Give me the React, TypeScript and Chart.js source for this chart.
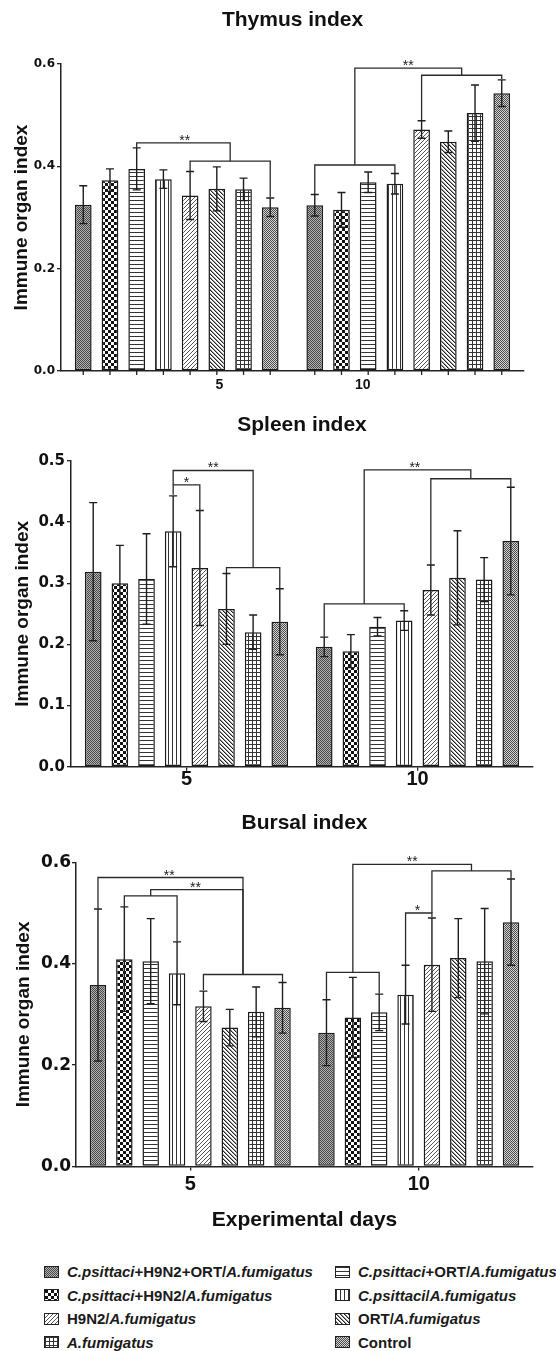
import React, { useEffect, useMemo, useRef } from 'react';
import { Chart, registerables } from 'chart.js';

Chart.register(...registerables);
Chart.defaults.font.family = "'Liberation Sans', Arial, sans-serif";

// ---------------- DATA ----------------
const days = ['5', '10'];

const groupNames = [
  'C.psittaci+H9N2+ORT/A.fumigatus',
  'C.psittaci+H9N2/A.fumigatus',
  'C.psittaci+ORT/A.fumigatus',
  'C.psittaci/A.fumigatus',
  'H9N2/A.fumigatus',
  'ORT/A.fumigatus',
  'A.fumigatus',
  'Control',
];

const thymusDay5 = [0.325, 0.373, 0.395, 0.375, 0.343, 0.356, 0.355, 0.32];
const thymusDay10 = [0.324, 0.315, 0.369, 0.366, 0.472, 0.448, 0.504, 0.543];
const thymusSdDay5 = [0.037, 0.022, 0.041, 0.018, 0.047, 0.043, 0.022, 0.018];
const thymusSdDay10 = [0.021, 0.034, 0.02, 0.02, 0.017, 0.021, 0.055, 0.026];
const thymusYTicks = [0, 0.2, 0.4, 0.6];

const spleenDay5 = [0.319, 0.3, 0.307, 0.385, 0.325, 0.258, 0.22, 0.237];
const spleenDay10 = [0.196, 0.189, 0.229, 0.239, 0.289, 0.309, 0.306, 0.369];
const spleenSdDay5 = [0.113, 0.062, 0.074, 0.058, 0.094, 0.058, 0.028, 0.054];
const spleenSdDay10 = [0.016, 0.027, 0.015, 0.016, 0.041, 0.077, 0.036, 0.088];
const spleenYTicks = [0, 0.1, 0.2, 0.3, 0.4, 0.5];

const bursalDay5 = [0.358, 0.409, 0.405, 0.381, 0.316, 0.274, 0.305, 0.313];
const bursalDay10 = [0.264, 0.294, 0.304, 0.339, 0.398, 0.411, 0.405, 0.482];
const bursalSdDay5 = [0.15, 0.103, 0.084, 0.062, 0.03, 0.036, 0.049, 0.05];
const bursalSdDay10 = [0.065, 0.079, 0.036, 0.058, 0.092, 0.078, 0.104, 0.085];
const bursalYTicks = [0, 0.2, 0.4, 0.6];

// significance brackets: day index, bar index range (within day), level, leg ends (data units)
type Bracket = { day: number; from: number; to: number; y: number; leftEnd: number; rightEnd: number; mark?: string; markAt?: number };

const thymusBrackets: Bracket[] = [
  { day: 0, from: 2, to: 5.5, y: 0.446, leftEnd: 0.436, rightEnd: 0.41, mark: '**', markAt: 3.8 },
  { day: 0, from: 4, to: 7, y: 0.41, leftEnd: 0.391, rightEnd: 0.34 },
  { day: 1, from: 1.5, to: 5.5, y: 0.592, leftEnd: 0.4026, rightEnd: 0.578, mark: '**', markAt: 3.5 },
  { day: 1, from: 0, to: 3, y: 0.4026, leftEnd: 0.346, rightEnd: 0.387 },
  { day: 1, from: 4, to: 7, y: 0.578, leftEnd: 0.4905, rightEnd: 0.5706 },
];

const spleenBrackets: Bracket[] = [
  { day: 0, from: 3, to: 6, y: 0.4845, leftEnd: 0.461, rightEnd: 0.3257, mark: '**', markAt: 4.5 },
  { day: 0, from: 3, to: 4, y: 0.461, leftEnd: 0.4447, rightEnd: 0.42, mark: '*', markAt: 3.5 },
  { day: 0, from: 5, to: 7, y: 0.3257, leftEnd: 0.3165, rightEnd: 0.292 },
  { day: 1, from: 1.5, to: 5.5, y: 0.4856, leftEnd: 0.2663, rightEnd: 0.471, mark: '**', markAt: 3.4 },
  { day: 1, from: 4, to: 7, y: 0.471, leftEnd: 0.33, rightEnd: 0.4573 },
  { day: 1, from: 0, to: 3, y: 0.2663, leftEnd: 0.2125, rightEnd: 0.2548 },
];

const bursalBrackets: Bracket[] = [
  { day: 0, from: 0, to: 5.5, y: 0.57, leftEnd: 0.509, rightEnd: 0.3787, mark: '**', markAt: 2.7 },
  { day: 0, from: 2, to: 5.5, y: 0.546, leftEnd: 0.5336, rightEnd: 0.3787, mark: '**', markAt: 3.7 },
  { day: 0, from: 1, to: 3, y: 0.5336, leftEnd: 0.511, rightEnd: 0.444 },
  { day: 0, from: 4, to: 7, y: 0.3787, leftEnd: 0.348, rightEnd: 0.3635 },
  { day: 1, from: 1, to: 5.5, y: 0.596, leftEnd: 0.3827, rightEnd: 0.5829, mark: '**', markAt: 3.25 },
  { day: 1, from: 0, to: 2, y: 0.3827, leftEnd: 0.3295, rightEnd: 0.341 },
  { day: 1, from: 4, to: 7, y: 0.5829, leftEnd: 0.5, rightEnd: 0.567 },
  { day: 1, from: 3, to: 4, y: 0.5, leftEnd: 0.397, rightEnd: 0.492, mark: '*', markAt: 3.45 },
];

const legendColumns = [
  [0, 1, 4, 6],
  [2, 3, 5, 7],
];

// ---------------- PATTERNS ----------------
function makeTile(i: number): HTMLCanvasElement {
  const c = document.createElement('canvas');
  const setup = (w: number, h: number, bg: string) => {
    c.width = w;
    c.height = h;
    const g = c.getContext('2d')!;
    g.fillStyle = bg;
    g.fillRect(0, 0, w, h);
    return g;
  };
  const dots = (g: CanvasRenderingContext2D, pts: number[][], col: string) => {
    g.fillStyle = col;
    pts.forEach(([x, y]) => g.fillRect(x, y, 1, 1));
  };
  let g: CanvasRenderingContext2D;
  switch (i) {
    case 0:
      g = setup(2, 2, '#b4b4b4');
      dots(g, [[0, 0], [1, 1]], '#464646');
      break;
    case 1:
      g = setup(6, 6, '#ffffff');
      g.fillStyle = '#111';
      g.fillRect(0, 0, 3, 3);
      g.fillRect(3, 3, 3, 3);
      break;
    case 2:
      g = setup(4, 4, '#ffffff');
      g.fillStyle = '#333';
      g.fillRect(0, 0, 4, 1);
      break;
    case 3:
      g = setup(4, 4, '#ffffff');
      g.fillStyle = '#333';
      g.fillRect(0, 0, 1, 4);
      break;
    case 4:
      g = setup(4, 4, '#ffffff');
      dots(g, [[3, 0], [2, 1], [1, 2], [0, 3]], '#555');
      break;
    case 5:
      g = setup(4, 4, '#ffffff');
      dots(g, [[0, 0], [1, 1], [2, 2], [3, 3]], '#222');
      dots(g, [[1, 0], [2, 1], [3, 2], [0, 3]], '#9a9a9a');
      break;
    case 6:
      g = setup(4, 4, '#ffffff');
      g.fillStyle = '#333';
      g.fillRect(0, 0, 4, 1);
      g.fillRect(0, 0, 1, 4);
      break;
    default:
      g = setup(4, 4, '#d6d6d6');
      dots(g, [[0, 0], [1, 1], [2, 0], [3, 1], [0, 2], [1, 3], [2, 2], [3, 3]], '#4a4a4a');
      break;
  }
  return c;
}

// ---------------- PLUGINS ----------------
function barX(chart: any, day: number, idx: number) {
  const i0 = Math.floor(idx);
  const i1 = Math.min(Math.ceil(idx), chart.data.datasets.length - 1);
  const x0 = chart.getDatasetMeta(i0).data[day].x;
  const x1 = chart.getDatasetMeta(i1).data[day].x;
  return x0 + (idx - i0) * (x1 - x0);
}

const errorBarPlugin = {
  id: 'errorBars',
  afterDatasetsDraw(chart: any) {
    const { ctx } = chart;
    const y = chart.scales.y;
    ctx.save();
    ctx.strokeStyle = '#1e1e1e';
    ctx.lineWidth = 1.4;
    chart.data.datasets.forEach((ds: any, i: number) => {
      const meta = chart.getDatasetMeta(i);
      meta.data.forEach((bar: any, j: number) => {
        const m = ds.data[j];
        const sd = ds.errors[j];
        const top = y.getPixelForValue(m + sd);
        const bot = y.getPixelForValue(m - sd);
        const cap = 4;
        ctx.beginPath();
        ctx.moveTo(bar.x, top);
        ctx.lineTo(bar.x, bot);
        ctx.moveTo(bar.x - cap, top);
        ctx.lineTo(bar.x + cap, top);
        ctx.moveTo(bar.x - cap, bot);
        ctx.lineTo(bar.x + cap, bot);
        ctx.stroke();
      });
    });
    ctx.restore();
  },
};

function makeBracketPlugin(brackets: Bracket[]) {
  return {
    id: 'brackets',
    afterDatasetsDraw(chart: any) {
      const { ctx } = chart;
      const y = chart.scales.y;
      ctx.save();
      ctx.strokeStyle = '#2a2a2a';
      ctx.lineWidth = 1.3;
      ctx.fillStyle = '#222';
      ctx.font = "14px 'Liberation Sans', Arial, sans-serif";
      ctx.textAlign = 'center';
      ctx.textBaseline = 'alphabetic';
      brackets.forEach((b) => {
        const xa = barX(chart, b.day, b.from);
        const xb = barX(chart, b.day, b.to);
        const yh = y.getPixelForValue(b.y);
        const ya = y.getPixelForValue(b.leftEnd);
        const yb = y.getPixelForValue(b.rightEnd);
        ctx.beginPath();
        ctx.moveTo(xa, ya);
        ctx.lineTo(xa, yh);
        ctx.lineTo(xb, yh);
        ctx.lineTo(xb, yb);
        ctx.stroke();
        if (b.mark) {
          ctx.fillText(b.mark, barX(chart, b.day, b.markAt as number), yh + 2);
        }
      });
      ctx.restore();
    },
  };
}

function makeBarTicksPlugin(labelAt: number[], labelDy: number) {
  return {
    id: 'barTicks',
    afterDraw(chart: any) {
      const { ctx } = chart;
      const bottom = chart.chartArea.bottom;
      ctx.save();
      ctx.strokeStyle = '#222';
      ctx.lineWidth = 1.3;
      chart.data.datasets.forEach((_: any, i: number) => {
        chart.getDatasetMeta(i).data.forEach((el: any) => {
          ctx.beginPath();
          ctx.moveTo(el.x, bottom);
          ctx.lineTo(el.x, bottom + 4);
          ctx.stroke();
        });
      });
      ctx.fillStyle = '#111';
      ctx.font = "bold 14px 'Liberation Sans', Arial, sans-serif";
      ctx.textAlign = 'center';
      ctx.textBaseline = 'middle';
      chart.data.labels.forEach((lab: string, j: number) => {
        ctx.fillText(lab, barX(chart, j, labelAt[j]), bottom + labelDy);
      });
      ctx.restore();
    },
  };
}

// ---------------- PANEL ----------------
type PanelSpec = {
  title: string;
  d5: number[];
  d10: number[];
  s5: number[];
  s10: number[];
  yTicks: number[];
  brackets: Bracket[];
  top: number;
  height: number;
  area: { left: number; right: number; top: number; bottom: number };
  titleCenter: number;
  yTickFont: number;
  yTickPad: number;
  yTitlePad: number;
  xLabels: 'bars' | 'category';
  xLabelPad: number;
  xTitle?: string;
  xTitleCenter?: number;
};

const W = 556;

function buildConfig(p: PanelSpec, tiles: HTMLCanvasElement[]): any {
  const patterns = tiles.map((t) => t.getContext('2d')!.createPattern(t, 'repeat'));
  const titleLH = 21 * 1.2;
  const titlePadTop = p.titleCenter - titleLH / 2;
  const titlePadBottom = p.area.top - titlePadTop - titleLH;
  const plugins: any[] = [errorBarPlugin, makeBracketPlugin(p.brackets)];
  if (p.xLabels === 'bars') plugins.push(makeBarTicksPlugin([5.1, 1.8], 14));
  const xTitleLH = 21 * 1.2;
  return {
    type: 'bar',
    data: {
      labels: days,
      datasets: groupNames.map((name, i) => ({
        label: name,
        data: [p.d5[i], p.d10[i]],
        errors: [p.s5[i], p.s10[i]],
        backgroundColor: patterns[i],
        borderColor: '#1a1a1a',
        borderWidth: 1.5,
        borderSkipped: false,
        categoryPercentage: 0.923,
        barPercentage: 0.625,
      })),
    },
    options: {
      responsive: false,
      animation: false,
      devicePixelRatio: 1,
      events: [],
      layout: { padding: { left: 0, right: W - p.area.right, top: 0, bottom: 0 } },
      plugins: {
        legend: { display: false },
        tooltip: { enabled: false },
        title: {
          display: true,
          text: p.title,
          fullSize: false,
          color: '#111',
          font: { size: 21, weight: 'bold' },
          padding: { top: titlePadTop, bottom: titlePadBottom },
        },
      },
      scales: {
        x: {
          type: 'category',
          offset: true,
          grid: {
            display: p.xLabels === 'category',
            drawOnChartArea: false,
            drawTicks: true,
            tickLength: 4,
            offset: false,
            color: '#222',
            lineWidth: 1.3,
          },
          ticks: {
            display: p.xLabels === 'category',
            color: '#111',
            font: { size: 20, weight: 'bold', lineHeight: 1 },
            padding: p.xLabelPad,
            maxRotation: 0,
          },
          border: { display: true, color: '#222', width: 1.5 },
          title: p.xTitle
            ? {
                display: true,
                text: p.xTitle,
                color: '#111',
                font: { size: 21, weight: 'bold' },
                padding: { top: 0, bottom: p.height - (p.xTitleCenter as number) - xTitleLH / 2 },
              }
            : { display: false },
          afterFit: (s: any) => {
            s.height = p.height - p.area.bottom;
          },
        },
        y: {
          min: 0,
          max: p.yTicks[p.yTicks.length - 1],
          afterBuildTicks: (s: any) => {
            s.ticks = p.yTicks.map((v) => ({ value: v }));
          },
          ticks: {
            color: '#111',
            font: { family: "'DejaVu Sans', sans-serif", size: p.yTickFont, weight: 'bold' },
            padding: p.yTickPad,
            callback: (v: any) => Number(v).toFixed(1),
          },
          grid: {
            display: true,
            drawOnChartArea: false,
            drawTicks: true,
            tickLength: 4,
            color: '#222',
            lineWidth: 1.3,
          },
          border: { display: true, color: '#222', width: 1.5 },
          title: {
            display: true,
            text: 'Immune organ index',
            color: '#111',
            font: { size: 19, weight: 'bold' },
            padding: { top: p.yTitlePad, bottom: 0 },
          },
          afterFit: (s: any) => {
            s.width = p.area.left;
          },
        },
      },
    },
    plugins,
  };
}

function Panel({ spec, tiles }: { spec: PanelSpec; tiles: HTMLCanvasElement[] }) {
  const ref = useRef<HTMLCanvasElement>(null);
  useEffect(() => {
    const chart = new Chart(ref.current as HTMLCanvasElement, buildConfig(spec, tiles));
    return () => chart.destroy();
  }, [spec, tiles]);
  return (
    <canvas
      ref={ref}
      width={W}
      height={spec.height}
      style={{ position: 'absolute', left: 0, top: spec.top, width: W, height: spec.height }}
    />
  );
}

const thymusSpec: PanelSpec = {
  title: 'Thymus index',
  d5: thymusDay5,
  d10: thymusDay10,
  s5: thymusSdDay5,
  s10: thymusSdDay10,
  yTicks: thymusYTicks,
  brackets: thymusBrackets,
  top: 0,
  height: 400,
  area: { left: 61, right: 524, top: 64, bottom: 371 },
  titleCenter: 20.5,
  yTickFont: 12,
  yTickPad: 2,
  yTitlePad: 10,
  xLabels: 'bars',
  xLabelPad: 0,
};

const spleenSpec: PanelSpec = {
  title: 'Spleen index',
  d5: spleenDay5,
  d10: spleenDay10,
  s5: spleenSdDay5,
  s10: spleenSdDay10,
  yTicks: spleenYTicks,
  brackets: spleenBrackets,
  top: 400,
  height: 400,
  area: { left: 71, right: 533, top: 61, bottom: 366.7 },
  titleCenter: 25,
  yTickFont: 15,
  yTickPad: 2,
  yTitlePad: 11,
  xLabels: 'category',
  xLabelPad: -1,
};

const bursalSpec: PanelSpec = {
  title: 'Bursal index',
  d5: bursalDay5,
  d10: bursalDay10,
  s5: bursalSdDay5,
  s10: bursalSdDay10,
  yTicks: bursalYTicks,
  brackets: bursalBrackets,
  top: 800,
  height: 445,
  area: { left: 76, right: 533, top: 62.3, bottom: 366.5 },
  titleCenter: 23.5,
  yTickFont: 17,
  yTickPad: 1,
  yTitlePad: 12,
  xLabels: 'category',
  xLabelPad: 4,
  xTitle: 'Experimental days',
  xTitleCenter: 420,
};

// ---------------- LEGEND ----------------
function richParts(name: string) {
  return name.split(/(C\.psittaci|A\.fumigatus)/).filter((s) => s.length > 0).map((s) => ({
    text: s,
    italic: s === 'C.psittaci' || s === 'A.fumigatus',
  }));
}

function Legend({ tiles }: { tiles: HTMLCanvasElement[] }) {
  const urls = useMemo(() => tiles.map((t) => t.toDataURL()), [tiles]);
  const rowCenters = [1271.7, 1295.2, 1318.6, 1342.2];
  const colSwatchX = [44, 335];
  return (
    <>
      {legendColumns.map((col, ci) =>
        col.map((gi, ri) => (
          <div
            key={`${ci}-${ri}`}
            style={{
              position: 'absolute',
              left: colSwatchX[ci],
              top: rowCenters[ri] - 10,
              height: 20,
              display: 'flex',
              alignItems: 'center',
              whiteSpace: 'nowrap',
              fontFamily: "'Liberation Sans', Arial, sans-serif",
              fontWeight: 'bold',
              fontSize: 15,
              color: '#1a1a1a',
            }}
          >
            <span
              style={{
                display: 'inline-block',
                width: 13,
                height: 10,
                border: '1px solid #222',
                backgroundImage: `url(${urls[gi]})`,
                imageRendering: 'pixelated',
                marginRight: 8,
              }}
            />
            {richParts(groupNames[gi]).map((part, k) => (
              <span key={k} style={{ fontStyle: part.italic ? 'italic' : 'normal' }}>
                {part.text}
              </span>
            ))}
          </div>
        ))
      )}
    </>
  );
}

export default function App() {
  const tiles = useMemo(() => groupNames.map((_, i) => makeTile(i)), []);
  return (
    <div style={{ position: 'absolute', left: 0, top: 0, width: W, height: 1351, background: '#fff', overflow: 'hidden' }}>
      <Panel spec={thymusSpec} tiles={tiles} />
      <Panel spec={spleenSpec} tiles={tiles} />
      <Panel spec={bursalSpec} tiles={tiles} />
      <Legend tiles={tiles} />
    </div>
  );
}
